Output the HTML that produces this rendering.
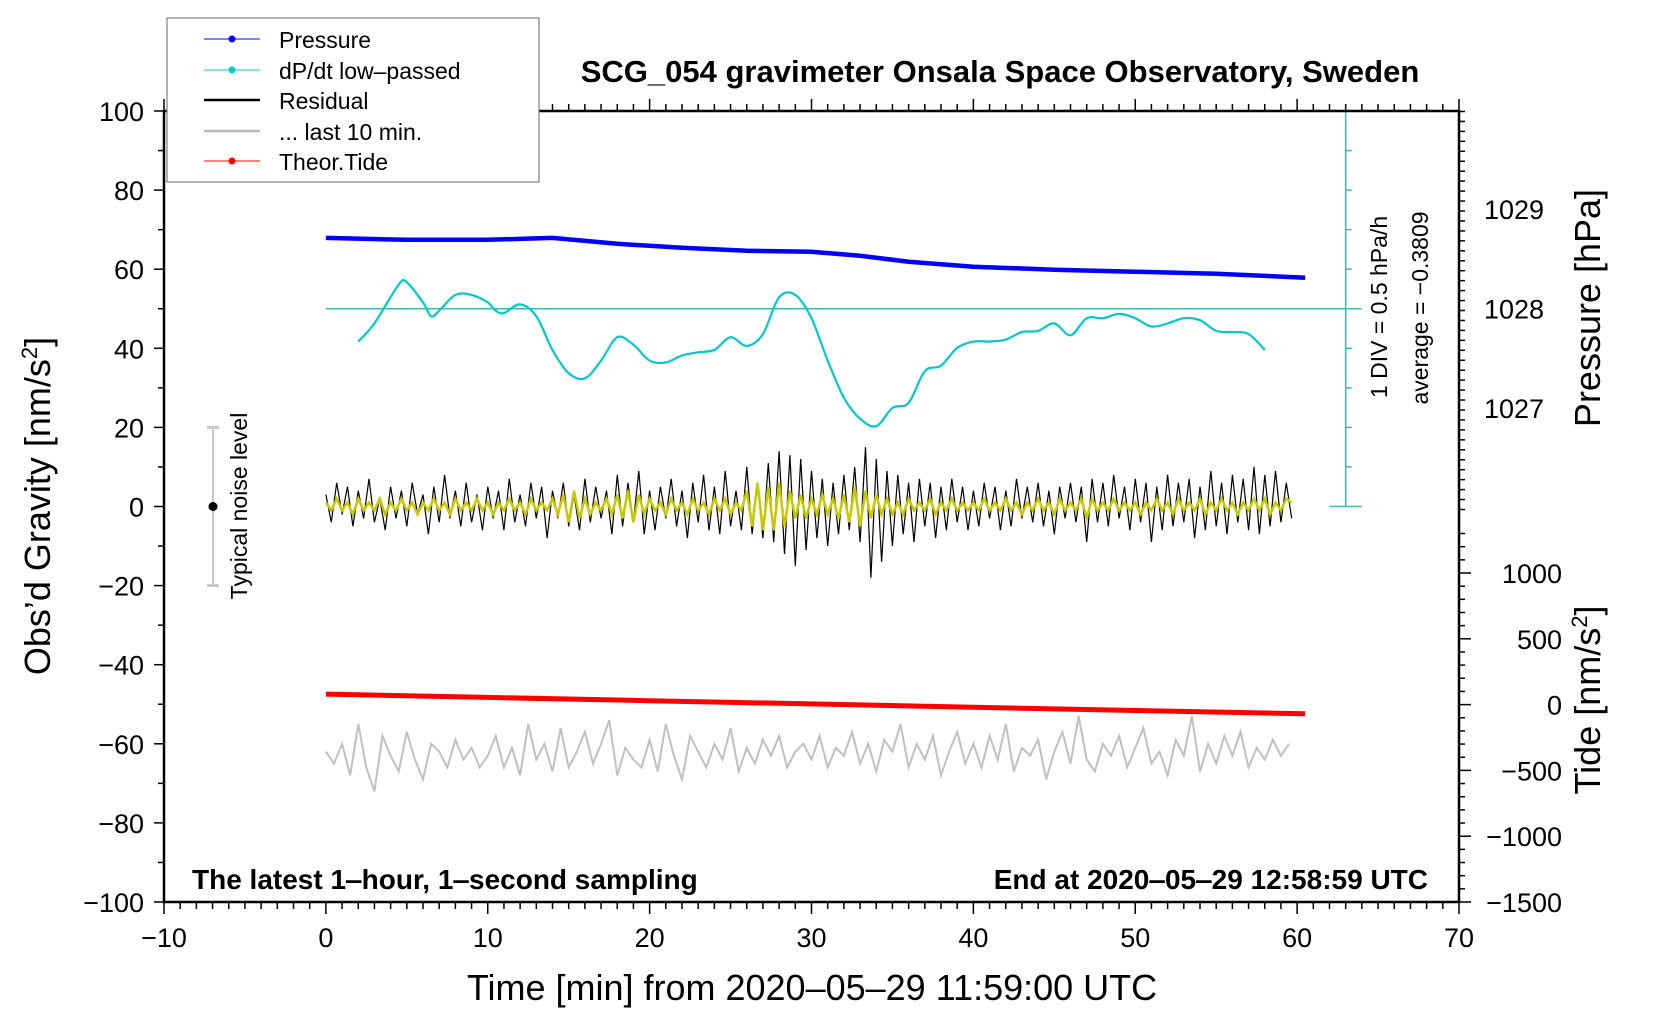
<!DOCTYPE html>
<html><head><meta charset="utf-8">
<style>
html,body{margin:0;padding:0;background:#fff;}
svg{display:block;font-family:"Liberation Sans",Arial,sans-serif;}
</style></head>
<body>
<svg id="chart" width="1660" height="1020" viewBox="0 0 1660 1020" xmlns="http://www.w3.org/2000/svg">
  <rect x="0" y="0" width="1660" height="1020" fill="#fff"/>
  <g id="marks"></g>
  <g id="axes"></g>
  <text x="1000" y="82" font-size="31" font-weight="bold" text-anchor="middle">SCG_054 gravimeter Onsala Space Observatory, Sweden</text>
  <text x="192" y="889" font-size="28" font-weight="bold">The latest 1‒hour, 1‒second sampling</text>
  <text x="1428" y="889" font-size="28" font-weight="bold" text-anchor="end">End at 2020‒05‒29 12:58:59 UTC</text>
  <text x="812" y="1000" font-size="36" text-anchor="middle">Time [min] from 2020‒05‒29 11:59:00 UTC</text>
  <text transform="translate(50,506) rotate(-90)" font-size="36" text-anchor="middle">Obs’d Gravity [nm/s<tspan font-size="22" dy="-13">2</tspan><tspan dy="13">]</tspan></text>
  <text transform="translate(1600,308) rotate(-90)" font-size="36" text-anchor="middle">Pressure [hPa]</text>
  <text transform="translate(1600,700) rotate(-90)" font-size="36" text-anchor="middle">Tide [nm/s<tspan font-size="22" dy="-13">2</tspan><tspan dy="13">]</tspan></text>
  <text transform="translate(1387,307) rotate(-90)" font-size="23" text-anchor="middle">1 DIV = 0.5 hPa/h</text>
  <text transform="translate(1428,308) rotate(-90)" font-size="23" text-anchor="middle">average = −0.3809</text>
  <text transform="translate(247,506) rotate(-90)" font-size="23" text-anchor="middle">Typical noise level</text>
  <g>
    <rect x="167" y="18" width="372" height="164" fill="#fff" stroke="#666" stroke-width="1"/>
    <g><line x1="204" y1="39" x2="260" y2="39" stroke="#0000ff" stroke-width="1"/><circle cx="232" cy="39" r="3.5" fill="#0000ff"/><text x="279" y="48" font-size="23">Pressure</text></g>
    <g><line x1="204" y1="70" x2="260" y2="70" stroke="#00c8c8" stroke-width="1"/><circle cx="232" cy="70" r="3.5" fill="#00c8c8"/><text x="279" y="79" font-size="23">dP/dt low‒passed</text></g>
    <g><line x1="204" y1="100" x2="260" y2="100" stroke="#000" stroke-width="2.5"/><text x="279" y="109" font-size="23">Residual</text></g>
    <g><line x1="204" y1="131" x2="260" y2="131" stroke="#bbb" stroke-width="2.5"/><text x="279" y="140" font-size="23">... last 10 min.</text></g>
    <g><line x1="204" y1="161" x2="260" y2="161" stroke="#ff0000" stroke-width="1"/><circle cx="232" cy="161" r="3.5" fill="#ff0000"/><text x="279" y="170" font-size="23">Theor.Tide</text></g>
  </g>
</svg>
<script>
// ---- data ----
const xTicks = [-10,0,10,20,30,40,50,60,70];
const yTicks = [100,80,60,40,20,0,-20,-40,-60,-80,-100];
const pTicks = [1029,1028,1027];
const tideTicks = [1000,500,0,-500,-1000,-1500];
const pressureTime = [0,5,10,14,18,22,26,30,33,36,40,45,50,55,60.5];
const pressureVals = [1028.71,1028.69,1028.69,1028.71,1028.65,1028.61,1028.58,1028.57,1028.53,1028.47,1028.42,1028.39,1028.37,1028.35,1028.31];
const dpdtTime = [2,3,4.5,5,6,6.5,7,8,9,10,10.5,11,12,13,14,15,16,17,18,19,20,21,22,23,24,25,26,27,28,29,30,31,32,33,34,35,36,37,38,39,40,41,42,43,44,45,46,47,48,49,50,51,52,53,54,55,56,57,58];
const dpdtVals = [41.7,46.3,56.1,56.7,51.6,48.1,49.5,53.5,53.5,51.6,49.5,48.9,51.1,48.1,39.6,33.7,32.4,36.9,42.8,40.9,36.9,36.4,38.2,39.0,39.6,42.8,40.6,43.6,52.9,53.5,47.6,36.9,27.5,22.2,20.3,24.9,26.2,34.2,35.6,40.1,41.7,41.7,42.2,44.1,44.4,46.3,43.3,47.6,47.6,48.7,47.6,45.5,46.3,47.6,47.1,44.4,44.1,43.6,39.6];
const residualVals = [3,-4,6,-2,5,-5,4,-3,7,-4,2,-6,5,-3,4,-5,6,-2,3,-7,5,-4,8,-3,4,-5,6,-4,3,-6,
5,-3,4,-6,7,-4,3,-5,6,-3,5,-8,4,-3,6,-5,3,-6,7,-4,5,-3,4,-7,8,-5,6,-4,9,-7,
4,-6,5,-3,7,-5,4,-8,6,-4,8,-6,5,-7,9,-5,4,-6,10,-7,6,-8,11,-9,14,-12,13,-15,12,-11,
9,-8,7,-10,6,-7,8,-6,10,-9,15,-18,12,-14,9,-10,8,-7,6,-9,7,-5,6,-8,5,-6,7,-4,5,-6,
4,-5,6,-3,5,-6,4,-5,7,-3,5,-4,6,-5,4,-7,5,-3,6,-4,5,-9,7,-4,6,-5,8,-3,5,-6,
7,-4,6,-9,5,-6,8,-5,6,-4,7,-8,5,-6,9,-5,6,-7,8,-4,7,-6,10,-7,8,-5,9,-4,6,-3];
const smoothVals = [1,-1,2,-1,1,-2,2,-1,1,-1,2,-2,1,-1,2,-1,1,-2,1,-1,2,-1,1,-2,2,-1,1,-1,2,-1,
1,-2,1,-1,2,-1,1,-2,2,-1,1,-1,2,-2,3,-4,4,-3,2,-2,1,-1,2,-2,3,-3,4,-4,3,-2,
2,-1,1,-2,2,-1,1,-2,2,-1,1,-2,2,-1,2,-2,1,-1,4,-5,6,-6,5,-6,6,-5,4,-3,3,-3,
2,-2,3,-2,2,-3,3,-4,5,-5,4,-3,3,-2,2,-2,1,-2,2,-1,1,-1,2,-2,1,-1,2,-1,1,-1,
1,-1,2,-1,1,-1,2,-1,1,-2,1,-1,2,-1,1,-2,2,-1,1,-1,2,-3,2,-1,1,-1,2,-1,1,-1,
1,-2,1,-1,2,-1,1,-2,2,-1,1,-1,2,-2,1,-1,2,-1,1,-2,1,-1,2,-1,2,-2,1,-1,2,1];
const last10Vals = [-62,-65,-60,-68,-55,-66,-72,-58,-63,-67,-57,-64,-69,-60,-62,-66,-59,-64,-61,-66,
-63,-58,-66,-61,-68,-55,-64,-60,-67,-56,-66,-62,-57,-65,-60,-54,-68,-61,-64,-66,
-59,-67,-55,-63,-69,-58,-62,-66,-60,-64,-56,-67,-61,-65,-59,-63,-58,-66,-62,-60,
-64,-58,-66,-61,-63,-57,-65,-60,-67,-59,-62,-55,-66,-60,-64,-58,-68,-62,-57,-65,
-60,-66,-58,-64,-55,-67,-61,-63,-59,-69,-62,-57,-65,-53,-64,-67,-60,-63,-58,-66,
-61,-56,-65,-62,-68,-59,-63,-53,-67,-60,-65,-58,-63,-57,-66,-61,-64,-59,-63,-60];
const tideTime = [0,10,20,30,40,50,60.5];
const tideVals = [80,55,30,5,-20,-45,-70];
const dpdtBaseline = 50;

// ---- axes functions ----
const L=164,R=1459,T=111,B=902;
const sx = m => L + (m+10)*(R-L)/80;
const sy = v => T + (100-v)*(B-T)/200;
const sp = p => 209 + (1029-p)*99.5;
const st = t => 704.6 - t*65.8/500;
const NS='http://www.w3.org/2000/svg';
const marks=document.getElementById('marks'), axes=document.getElementById('axes');
function mk(tag,attrs,parent){const e=document.createElementNS(NS,tag);for(const k in attrs)e.setAttribute(k,attrs[k]);parent.appendChild(e);return e;}
function poly(pts){return pts.map((p,i)=>(i?'L':'M')+p[0].toFixed(1)+','+p[1].toFixed(1)).join('');}
function smooth(pts){let d='M'+pts[0][0]+','+pts[0][1];for(let i=0;i<pts.length-1;i++){const p0=pts[Math.max(0,i-1)],p1=pts[i],p2=pts[i+1],p3=pts[Math.min(pts.length-1,i+2)];d+=' C'+(p1[0]+(p2[0]-p0[0])/6).toFixed(1)+','+(p1[1]+(p2[1]-p0[1])/6).toFixed(1)+' '+(p2[0]-(p3[0]-p1[0])/6).toFixed(1)+','+(p2[1]-(p3[1]-p1[1])/6).toFixed(1)+' '+p2[0].toFixed(1)+','+p2[1].toFixed(1);}return d;}

// cyan scale bar
const bar=mk('g',{},marks);


const bx=sx(63);
mk('line',{x1:bx,y1:sy(100),x2:bx,y2:sy(0),stroke:'#40b8b0','stroke-width':1.5},bar);
for(let v=0;v<=100;v+=10){const w=(v%50===0)?16:6;mk('line',{x1:bx-(v%50===0?16:0),y1:sy(v),x2:bx+w,y2:sy(v),stroke:'#40b8b0','stroke-width':1.5},bar);}
const base=mk('line',{x1:sx(0),y1:sy(dpdtBaseline),x2:bx,y2:sy(dpdtBaseline),stroke:'#40b8b0','stroke-width':1.5},marks);



// gray last 10 min
const g=mk('path',{d:poly(last10Vals.map((v,i)=>[sx(i*60/last10Vals.length),sy(v)])),fill:'none',stroke:'#c0c0c0','stroke-width':2},marks);


// tide
const td=mk('path',{d:poly(tideTime.map((t,i)=>[sx(t),st(tideVals[i])])),fill:'none',stroke:'#ff0000','stroke-width':5},marks);


// residual
const rs=mk('path',{d:poly(residualVals.map((v,i)=>[sx(i*60/residualVals.length),sy(v)])),fill:'none',stroke:'#000','stroke-width':1.2},marks);


const ys=mk('path',{d:poly(smoothVals.map((v,i)=>[sx(i*60/smoothVals.length),sy(v)])),fill:'none',stroke:'#c8c800','stroke-width':2.5},marks);


// dpdt
const dp=mk('path',{d:smooth(dpdtTime.map((t,i)=>[sx(t),sy(dpdtVals[i])])),fill:'none',stroke:'#00c8c8','stroke-width':2.2},marks);


// pressure
const pr=mk('path',{d:poly(pressureTime.map((t,i)=>[sx(t),sp(pressureVals[i])])),fill:'none',stroke:'#0000ff','stroke-width':4.5},marks);


// noise bar
const nb=mk('g',{},marks);


const nx=213;
mk('line',{x1:nx,y1:sy(20),x2:nx,y2:sy(-20),stroke:'#c8c8c8','stroke-width':2},nb);
mk('line',{x1:nx-6,y1:sy(20),x2:nx+6,y2:sy(20),stroke:'#c8c8c8','stroke-width':3},nb);
mk('line',{x1:nx-6,y1:sy(-20),x2:nx+6,y2:sy(-20),stroke:'#c8c8c8','stroke-width':3},nb);
mk('circle',{cx:nx,cy:sy(0),r:4.5,fill:'#000'},nb);

// frame
const fr=mk('rect',{x:L,y:T,width:R-L,height:B-T,fill:'none',stroke:'#000','stroke-width':2.5},axes);


// x ticks
for(let m=-10;m<=70;m++){const maj=m%10===0;const len=maj?12:7;
 mk('line',{x1:sx(m),y1:B,x2:sx(m),y2:B+len,stroke:'#000','stroke-width':1.5},axes);
 mk('line',{x1:sx(m),y1:T,x2:sx(m),y2:T-len,stroke:'#000','stroke-width':1.5},axes);}
xTicks.forEach(m=>{const t=mk('text',{x:sx(m),y:947,'font-size':27,'text-anchor':'middle'},axes);t.textContent=String(m).replace('-','−');
 
 });
// left ticks
for(let v=-100;v<=100;v+=10){const len=v%20===0?10:6;mk('line',{x1:L,y1:sy(v),x2:L-len,y2:sy(v),stroke:'#000','stroke-width':1.5},axes);}
yTicks.forEach(v=>{const t=mk('text',{x:144,y:sy(v)+10,'font-size':27,'text-anchor':'end'},axes);t.textContent=String(v).replace('-','−');
 
 });
// pressure ticks
for(let k=0;k<=40;k++){const p=1029.98-k*0.1;const y=sp(p);if(y<T||y>522)continue;const maj=Math.abs(p-Math.round(p))<0.01;mk('line',{x1:R,y1:y,x2:R+(maj?12:6),y2:y,stroke:'#000','stroke-width':1.5},axes);}
pTicks.forEach(p=>{const t=mk('text',{x:1484,y:sp(p)+10,'font-size':27},axes);t.textContent=p;
 
 });
// tide ticks
for(let v=-1500;v<=1300;v+=100){const maj=v%500===0;mk('line',{x1:R,y1:st(v),x2:R+(maj?12:6),y2:st(v),stroke:'#000','stroke-width':1.5},axes);}
tideTicks.forEach(v=>{const t=mk('text',{x:1562,y:st(v)+10,'font-size':27,'text-anchor':'end'},axes);t.textContent=String(v).replace('-','−');
 
 });
</script>
</body></html>
